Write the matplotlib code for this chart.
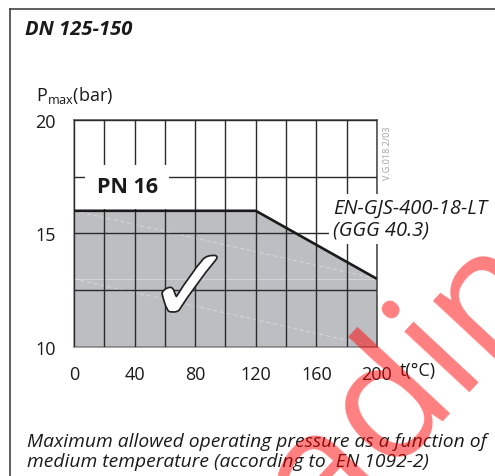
import matplotlib
matplotlib.use("Agg")
import matplotlib.pyplot as plt
import matplotlib.patheffects as pe
from matplotlib.lines import Line2D
from matplotlib.ticker import MultipleLocator

plt.rcParams['font.family'] = ['Open Sans', 'DejaVu Sans']
plt.rcParams['mathtext.fontset'] = 'custom'
plt.rcParams['mathtext.rm'] = 'Open Sans'

# pressure / temperature curve (EN-GJS-400-18-LT, PN 16)
temps = [0, 120, 200]
pmax = [16, 16, 13]
x_ticks = [0, 40, 80, 120, 160, 200]
y_ticks = [10, 15, 20]

W, H = 495, 477
fig = plt.figure(figsize=(W / 100, H / 100), dpi=100)
ax = fig.add_axes([74 / W, 1 - 348 / H, (377 - 74) / W, (348 - 121) / H])

ax.fill_between(temps, pmax, 10, color='#bdbec2', lw=0, zorder=1)
# faint ghost lines left in the grey area of the original drawing
ax.plot([temps[0], temps[-1]], [pmax[0], pmax[-1]], color='white', lw=0.7, ls=(0, (4, 3)),
        alpha=0.4, zorder=1.5)
ax.plot([temps[0], temps[-1]], [pmax[-1], 10], color='white', lw=0.7, ls=(0, (4, 3)),
        alpha=0.4, zorder=1.5)
ax.axhline(pmax[-1], color='white', lw=0.7, alpha=0.35, zorder=1.5)
ax.plot(temps, pmax, color='#1a1a1a', lw=1.9, zorder=3, solid_capstyle='butt')

ax.set_xlim(0, 200)
ax.set_ylim(10, 20)
ax.set_xticks(x_ticks)
ax.set_yticks(y_ticks)
ax.xaxis.set_minor_locator(MultipleLocator(20))
ax.yaxis.set_minor_locator(MultipleLocator(2.5))
ax.set_axisbelow(False)
ax.grid(which='both', color='#2b2b2b', lw=1.0)
ax.tick_params(which='both', length=0, labelsize=13, colors='#1a1a1a')
ax.tick_params(axis='x', pad=13)
ax.tick_params(axis='y', pad=13)
for s in ax.spines.values():
    s.set_color('#555555')
    s.set_linewidth(1.2)
ax.spines['bottom'].set_color('#9a9a9a')
ax.spines['left'].set_color('#8a8a8a')

ax.text(35, 17.05, 'PN 16', fontsize=15.5, fontweight='bold', ha='center', va='center',
        color='#1a1a1a', zorder=5,
        bbox=dict(boxstyle='square,pad=0.55', fc='white', ec='none'))
ax.text(171, 15.65, 'EN-GJS-400-18-LT\n(GGG 40.3)', fontsize=14.5, style='italic',
        ha='left', va='center', color='#1a1a1a', zorder=5, clip_on=False, linespacing=1.15,
        bbox=dict(boxstyle='square,pad=0.2', fc='white', ec='none'))

# check mark
ax.text(77, 12.4, '\u2713', family='DejaVu Sans', fontsize=74, color='white',
        ha='center', va='center', zorder=4,
        path_effects=[pe.withStroke(linewidth=2.5, foreground='#222222')])

fig.text(388 / W, 1 - 153 / H, 'V.G.018.2/03', rotation=90, fontsize=6.5, color='#a0a0a0',
         ha='center', va='center')
fig.text(25 / W, 1 - 30 / H, 'DN 125-150', fontsize=14.5, fontweight='bold', style='italic',
         ha='left', va='center', color='#1a1a1a')
fig.text(36 / W, 1 - 96 / H, r'P$_{\mathrm{max}}$(bar)', fontsize=13, ha='left', va='center',
         color='#1a1a1a')
fig.text(400 / W, 1 - 371 / H, 't(\u00b0C)', fontsize=13, ha='left', va='center', color='#1a1a1a')
fig.text(27 / W, 1 - 452 / H,
         'Maximum allowed operating pressure as a function of\n'
         'medium temperature (according to  EN 1092-2)',
         fontsize=13.9, style='italic', ha='left', va='center', color='#1a1a1a', linespacing=1.1)

# outer frame
fig.add_artist(Line2D([10 / W, 10 / W], [0, 1 - 10 / H], color='#444444', lw=1.2))
fig.add_artist(Line2D([10 / W, 1], [1 - 10 / H, 1 - 10 / H], color='#444444', lw=1.2))

# watermark
fig.text(398 / W, 1 - 402 / H, 'trading', fontsize=120, color='red', alpha=0.5,
         rotation=47, ha='center', va='center', zorder=10)

fig.savefig('out.png', dpi=100)
